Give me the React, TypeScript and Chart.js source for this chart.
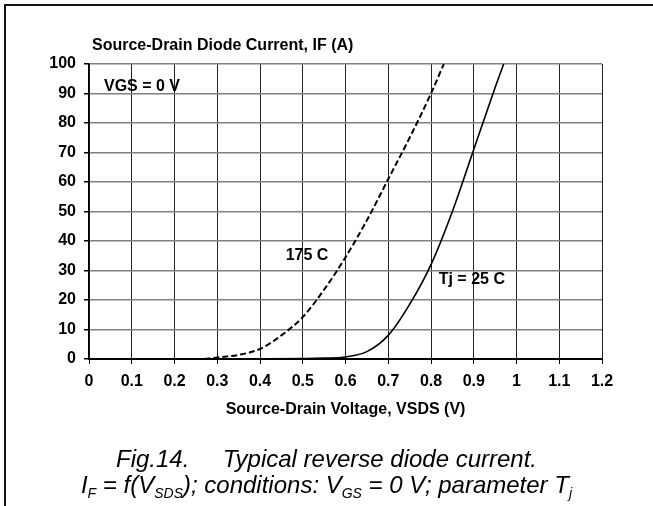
import React, { useEffect, useRef } from "react";
import { Chart, registerables } from "chart.js";

Chart.register(...registerables);

// ---- data ----
const xTickValues = [0, 0.1, 0.2, 0.3, 0.4, 0.5, 0.6, 0.7, 0.8, 0.9, 1, 1.1, 1.2];
const yTickValues = [0, 10, 20, 30, 40, 50, 60, 70, 80, 90, 100];

const vsd175 = [0.27, 0.3, 0.35, 0.4, 0.45, 0.5, 0.55, 0.6, 0.65, 0.7, 0.75, 0.8, 0.83];
const if175 = [0, 0.5, 1.4, 3.4, 8, 14.2, 23.5, 34.5, 47, 61, 75, 90, 100];

const vsd25 = [0.28, 0.4, 0.5, 0.55, 0.6, 0.65, 0.7, 0.75, 0.8, 0.85, 0.9, 0.95, 0.97];
const if25 = [0, 0.05, 0.15, 0.3, 0.7, 2.5, 8, 18.5, 32, 50, 71, 92, 100];

const yAxisTitle = "Source-Drain Diode Current, IF (A)";
const xAxisTitle = "Source-Drain Voltage, VSDS (V)";

const annoTexts = ["VGS = 0 V", "175 C", "Tj = 25 C"];
const annoX = [0.035, 0.46, 0.818];
const annoY = [92.5, 35, 26.8];

const captionLine1 = "Fig.14.     Typical reverse diode current.";
const captionLine2Text = ["I", "F", " = f(V", "SDS", "); conditions: V", "GS", " = 0 V; parameter T", "j"];
const captionLine2Sub = [false, true, false, true, false, true, false, true];

const FONT = '"Liberation Sans", Arial, sans-serif';

const textPlugin = {
  id: "texts",
  beforeDraw(chart: any) {
    const ctx = chart.ctx;
    ctx.save();
    ctx.fillStyle = "#ffffff";
    ctx.fillRect(0, 0, chart.width, chart.height);
    ctx.fillStyle = "#111111";
    ctx.fillRect(4, 4, 2, chart.height - 4);
    ctx.fillRect(4, 4, chart.width - 4, 2);
    ctx.restore();
  },
  afterDraw(chart: any) {
    const ctx = chart.ctx;
    const xs = chart.scales.x;
    const ys = chart.scales.y;
    ctx.save();
    ctx.fillStyle = "#000";
    ctx.textBaseline = "middle";
    ctx.textAlign = "left";
    ctx.font = `bold 16px ${FONT}`;
    ctx.fillText(yAxisTitle, 92, 46);
    for (let i = 0; i < annoTexts.length; i++) {
      ctx.fillText(annoTexts[i], xs.getPixelForValue(annoX[i]), ys.getPixelForValue(annoY[i]));
    }
    // caption
    const cx = chart.width / 2;
    ctx.textBaseline = "alphabetic";
    ctx.textAlign = "left";
    const mainFont = `italic 24px ${FONT}`;
    const subFont = `italic 14px ${FONT}`;
    ctx.font = mainFont;
    const w1 = ctx.measureText(captionLine1).width;
    ctx.fillText(captionLine1, cx - w1 / 2, 467);
    let total = 0;
    const widths: number[] = [];
    for (let i = 0; i < captionLine2Text.length; i++) {
      ctx.font = captionLine2Sub[i] ? subFont : mainFont;
      const w = ctx.measureText(captionLine2Text[i]).width;
      widths.push(w);
      total += w;
    }
    let x = cx - total / 2;
    for (let i = 0; i < captionLine2Text.length; i++) {
      ctx.font = captionLine2Sub[i] ? subFont : mainFont;
      ctx.fillText(captionLine2Text[i], x, captionLine2Sub[i] ? 498 : 493);
      x += widths[i];
    }
    ctx.restore();
  },
};

export default function App() {
  const ref = useRef<HTMLCanvasElement | null>(null);
  useEffect(() => {
    document.body.style.margin = "0";
    if (!ref.current) return;
    const chart = new Chart(ref.current, {
      type: "line",
      data: {
        datasets: [
          {
            label: "175 C",
            data: vsd175.map((v, i) => ({ x: v, y: if175[i] })),
            borderColor: "#000",
            borderWidth: 2,
            borderDash: [6, 3],
            pointRadius: 0,
            cubicInterpolationMode: "monotone",
            fill: false,
          },
          {
            label: "Tj = 25 C",
            data: vsd25.map((v, i) => ({ x: v, y: if25[i] })),
            borderColor: "#000",
            borderWidth: 1.6,
            pointRadius: 0,
            cubicInterpolationMode: "monotone",
            fill: false,
          },
        ],
      },
      options: {
        animation: false,
        responsive: false,
        devicePixelRatio: 1,
        layout: { padding: { left: 0, top: 64, right: 51, bottom: 0 } },
        plugins: { legend: { display: false }, tooltip: { enabled: false }, title: { display: false } },
        scales: {
          x: {
            type: "linear",
            min: 0,
            max: 1.2,
            afterBuildTicks: (s: any) => {
              s.ticks = xTickValues.map((v) => ({ value: v }));
            },
            afterFit: (s: any) => {
              s.height = 147;
            },
            ticks: {
              autoSkip: false,
              maxRotation: 0,
              padding: 8,
              color: "#000",
              font: { family: FONT, size: 16, weight: "bold" },
              callback: (v: any) => String(Math.round(Number(v) * 10) / 10),
            },
            grid: { color: "#222", lineWidth: 1, tickLength: 5, tickColor: "#000", drawTicks: true },
            border: { display: true, color: "#000", width: 2 },
            title: {
              display: true,
              text: xAxisTitle,
              color: "#000",
              font: { family: FONT, size: 16, weight: "bold" },
              padding: { top: 0, bottom: 87 },
            },
          },
          y: {
            type: "linear",
            min: 0,
            max: 100,
            afterBuildTicks: (s: any) => {
              s.ticks = yTickValues.map((v) => ({ value: v }));
            },
            afterFit: (s: any) => {
              s.width = 89;
            },
            ticks: {
              padding: 8,
              color: "#000",
              font: { family: FONT, size: 16, weight: "bold" },
              callback: (v: any) => String(v),
            },
            grid: { color: "#808080", lineWidth: 1.5, tickLength: 5, tickColor: "#000", drawTicks: true },
            border: { display: true, color: "#000", width: 1.5 },
          },
        },
      },
      plugins: [textPlugin],
    } as any);
    return () => chart.destroy();
  }, []);
  return (
    <div style={{ width: 653, height: 506, position: "relative" }}>
      <canvas ref={ref} width={653} height={506} style={{ display: "block", width: 653, height: 506 }} />
    </div>
  );
}
